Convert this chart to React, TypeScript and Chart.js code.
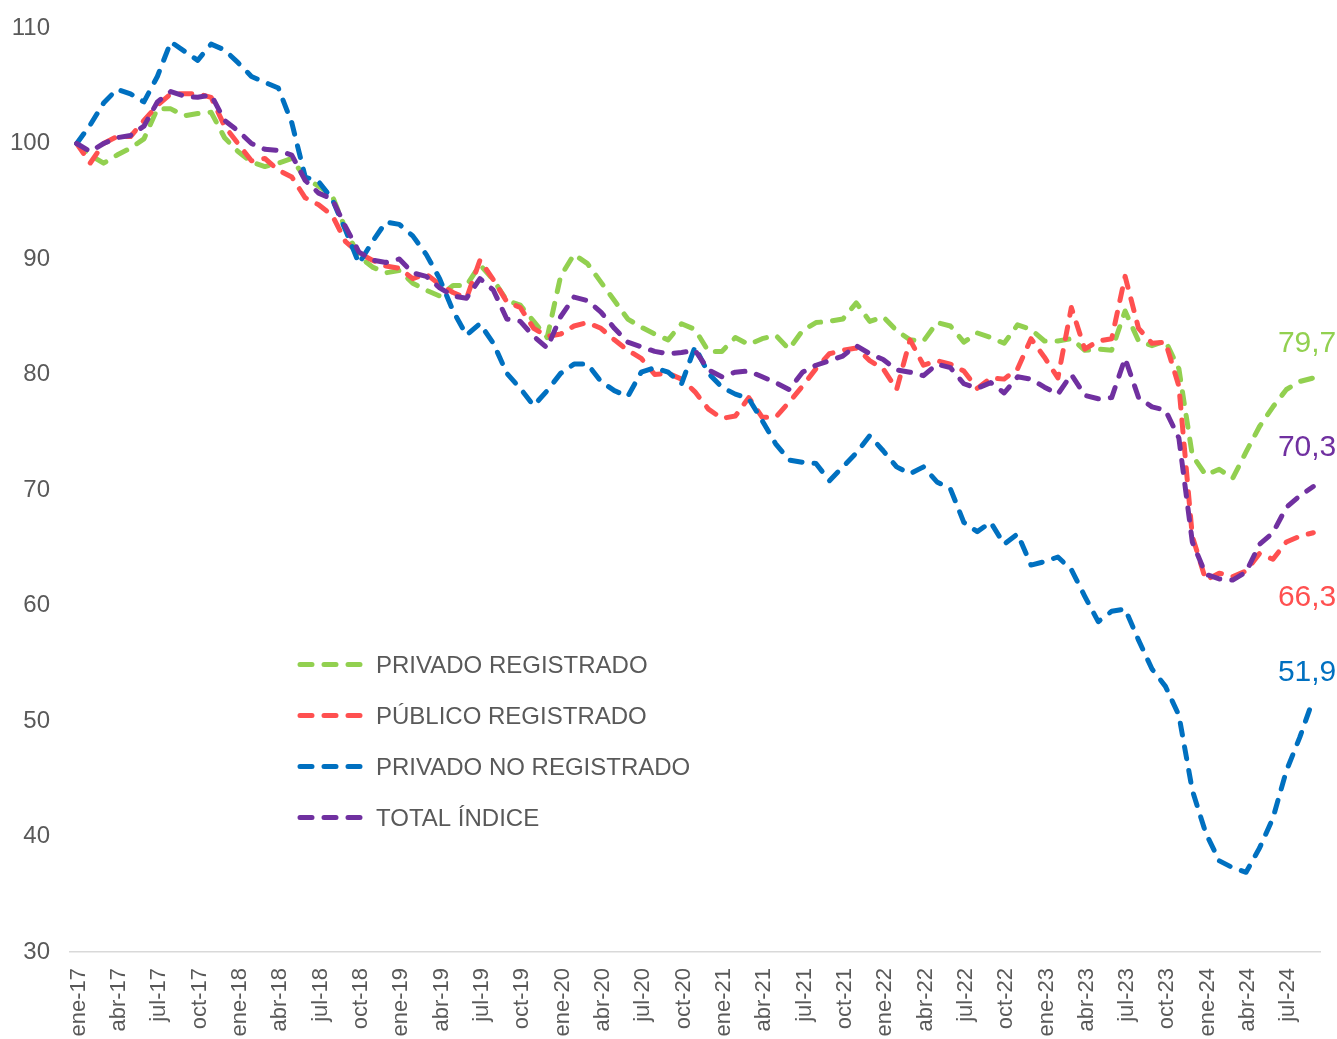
import React, { useEffect, useRef } from "react";
import { Chart, registerables } from "chart.js";

Chart.register(...registerables);

const monthNames = ["ene", "feb", "mar", "abr", "may", "jun", "jul", "ago", "sep", "oct", "nov", "dic"];
const years = ["17", "18", "19", "20", "21", "22", "23", "24"];
const categories: string[] = [];
years.forEach((y) => monthNames.forEach((m) => categories.push(`${m}-${y}`)));
categories.splice(93);

const privadoRegistrado = [
  100, 99.0, 98.3, 99.0, 99.6, 100.4, 103.0, 103.0, 102.4, 102.6, 102.7, 100.5,
  99.3, 98.4, 98.0, 98.3, 98.7, 97.0, 96.3, 95.5, 92.6, 90.2, 89.3, 88.8,
  89.0, 87.9, 87.3, 86.8, 87.7, 87.7, 89.5, 88.2, 86.4, 86.0, 84.6, 83.2,
  88.5, 90.4, 89.6, 88.0, 86.4, 84.8, 84.1, 83.5, 83.0, 84.4, 83.9, 82.0,
  82.0, 83.2, 82.6, 83.1, 83.4, 82.2, 83.8, 84.5, 84.6, 84.8, 86.2, 84.6,
  85.0, 83.8, 83.0, 82.9, 84.5, 84.2, 82.8, 83.6, 83.2, 82.7, 84.3, 83.9,
  82.9, 82.9, 83.1, 82.1, 82.2, 82.1, 85.5, 82.9, 82.5, 82.9, 80.5, 73.0,
  71.3, 71.8, 71.0, 73.3, 75.5, 77.2, 78.7, 79.4, 79.7,
];

const publicoRegistrado = [
  100, 98.3, 100.0, 100.6, 100.6, 102.0, 103.3, 104.3, 104.3, 104.3, 104.0, 101.5,
  100.0, 98.5, 98.7, 97.7, 97.1, 95.3, 94.7, 93.8, 91.5, 90.5, 89.9, 89.4,
  89.2, 88.3, 88.7, 87.8, 87.1, 86.6, 89.9, 88.2, 86.3, 85.8, 84.0, 83.3,
  83.5, 84.2, 84.5, 84.0, 83.0, 82.1, 81.4, 80.0, 80.1, 79.6, 78.5, 77.0,
  76.2, 76.4, 78.0, 76.3, 76.3, 77.6, 79.0, 80.5, 81.8, 82.1, 82.3, 81.2,
  80.5, 78.7, 83.0, 80.8, 81.2, 80.9, 80.3, 78.8, 79.7, 79.6, 80.5, 83.1,
  81.5, 79.7, 85.8, 82.2, 82.9, 83.1, 88.5, 84.0, 82.7, 82.8, 79.0, 66.0,
  62.2, 62.8, 62.5, 63.0, 64.5, 64.0, 65.5, 66.0, 66.3,
];

const privadoNoRegistrado = [
  100, 101.6, 103.5, 104.7, 104.3, 103.6, 105.8, 108.8, 108.0, 107.2, 108.6, 108.1,
  107.0, 105.8, 105.3, 104.8, 101.8, 97.1, 96.7, 95.2, 92.5, 89.6, 91.5, 93.2,
  93.0, 92.0, 90.4, 88.3, 85.5, 83.4, 84.4, 82.7, 80.1, 78.8, 77.3, 78.6,
  80.1, 80.9, 80.9, 79.4, 78.6, 78.1, 80.2, 80.6, 80.2, 79.2, 82.4, 80.1,
  78.9, 78.3, 77.9, 76.0, 74.0, 72.6, 72.4, 72.3, 70.8, 72.0, 73.2, 74.7,
  73.4, 72.0, 71.4, 72.0, 70.7, 70.1, 67.2, 66.4, 67.2, 65.3, 66.2, 63.5,
  63.8, 64.2, 63.1, 60.8, 58.6, 59.5, 59.7, 57.0, 54.5, 53.0, 50.5, 44.0,
  40.3, 37.9, 37.3, 36.9, 39.0, 41.6, 45.7, 48.6, 51.9,
];

const totalIndice = [
  100, 99.3, 100.0, 100.5, 100.7, 101.5, 103.6, 104.5, 104.1, 104.0, 104.2, 102.0,
  101.1, 100.0, 99.5, 99.4, 99.0, 96.8, 95.7, 95.2, 92.8, 90.6, 89.9, 89.7,
  90.0, 88.8, 88.5, 87.5, 86.8, 86.6, 88.3, 87.3, 84.8, 84.6, 83.3, 82.3,
  85.0, 86.7, 86.4, 85.4, 84.0, 82.8, 82.4, 82.0, 81.8, 81.9, 82.1, 80.4,
  79.8, 80.2, 80.3, 79.8, 79.3, 78.7, 80.2, 80.8, 81.2, 81.6, 82.5, 81.8,
  81.3, 80.4, 80.2, 79.9, 80.9, 80.6, 79.2, 78.8, 79.3, 78.4, 79.8, 79.6,
  78.9, 78.3, 80.0, 78.2, 77.9, 78.0, 81.4, 78.0, 77.2, 76.9, 74.5, 65.5,
  62.7, 62.3, 62.2, 62.9, 65.3, 66.3, 68.5, 69.5, 70.3,
];

const seriesNames = ["PRIVADO REGISTRADO", "PÚBLICO REGISTRADO", "PRIVADO NO REGISTRADO", "TOTAL ÍNDICE"];
const seriesColors = ["#92D050", "#FF5050", "#0070C0", "#7030A0"];
const seriesData = [privadoRegistrado, publicoRegistrado, privadoNoRegistrado, totalIndice];
const yTicks = [30, 40, 50, 60, 70, 80, 90, 100, 110];

const FONT = '"Liberation Sans", Arial, sans-serif';
const TEXT_GRAY = "#595959";
const DASH = [12, 12];

const legendPlugin = {
  id: "customLegend",
  afterDraw(chart: any) {
    const ctx = chart.ctx;
    const area = chart.chartArea;
    const x0 = area.left + 230;
    const baseY = area.top + 645;
    ctx.save();
    chart.data.datasets.forEach((ds: any, i: number) => {
      const yb = baseY + i * 51;
      ctx.beginPath();
      ctx.setLineDash([12, 12]);
      ctx.lineCap = "round";
      ctx.lineWidth = 5;
      ctx.strokeStyle = ds.borderColor;
      ctx.moveTo(x0, yb - 8.5);
      ctx.lineTo(x0 + 61, yb - 8.5);
      ctx.stroke();
      ctx.setLineDash([]);
      ctx.fillStyle = TEXT_GRAY;
      ctx.font = `24px ${FONT}`;
      ctx.textAlign = "left";
      ctx.textBaseline = "alphabetic";
      ctx.fillText(ds.label, x0 + 76, yb);
    });
    ctx.restore();
  },
};

const endLabelOffsets = [-25.5, 73, -18.5, -31];

const endLabelPlugin = {
  id: "endLabels",
  afterDatasetsDraw(chart: any) {
    const ctx = chart.ctx;
    ctx.save();
    chart.data.datasets.forEach((ds: any, i: number) => {
      const meta = chart.getDatasetMeta(i);
      const pts = meta.data;
      const last = pts[pts.length - 1];
      const value = ds.data[ds.data.length - 1] as number;
      ctx.fillStyle = ds.borderColor;
      ctx.font = `30px ${FONT}`;
      ctx.textAlign = "right";
      ctx.textBaseline = "alphabetic";
      ctx.fillText(value.toFixed(1).replace(".", ","), last.x + 23, last.y + endLabelOffsets[i]);
    });
    ctx.restore();
  },
};

export default function App() {
  const canvasRef = useRef<HTMLCanvasElement | null>(null);

  useEffect(() => {
    if (!canvasRef.current) return;
    const drawOrder = [3, 2, 1, 0];
    const chart = new Chart(canvasRef.current, {
      type: "line",
      data: {
        labels: categories,
        datasets: seriesNames.map((name, i) => ({
          label: name,
          data: seriesData[i],
          borderColor: seriesColors[i],
          backgroundColor: seriesColors[i],
          borderWidth: 5,
          borderDash: DASH,
          borderCapStyle: "round" as const,
          borderJoinStyle: "round" as const,
          pointRadius: 0,
          pointHoverRadius: 0,
          tension: 0,
          fill: false,
          order: drawOrder[i],
        })),
      },
      options: {
        responsive: false,
        animation: false,
        events: [],
        layout: { padding: { top: 28, right: 17, left: 0, bottom: 0 } },
        plugins: {
          legend: { display: false },
          tooltip: { enabled: false },
          title: { display: false },
        },
        scales: {
          x: {
            offset: true,
            grid: { display: false, drawTicks: false },
            border: { display: true, color: "#D9D9D9", width: 1.5 },
            ticks: {
              autoSkip: false,
              minRotation: 90,
              maxRotation: 90,
              padding: 16,
              labelOffset: 2,
              color: TEXT_GRAY,
              font: { family: FONT, size: 22 },
              callback: (_v: any, idx: number) => (idx % 3 === 0 ? categories[idx] : ""),
            },
            afterFit: (scale: any) => {
              scale.height = 87;
              scale.paddingLeft = 0;
              scale.paddingRight = 0;
            },
          },
          y: {
            min: yTicks[0],
            max: yTicks[yTicks.length - 1],
            grid: { display: false, drawTicks: false },
            border: { display: false },
            afterBuildTicks: (scale: any) => {
              scale.ticks = yTicks.map((v) => ({ value: v }));
            },
            ticks: {
              padding: 20,
              color: TEXT_GRAY,
              font: { family: FONT, size: 24 },
            },
            afterFit: (scale: any) => {
              scale.width = 70;
              scale.paddingTop = 0;
              scale.paddingBottom = 0;
            },
          },
        },
      },
      plugins: [legendPlugin, endLabelPlugin],
    });
    return () => chart.destroy();
  }, []);

  return (
    <div style={{ position: "absolute", left: 0, top: 0, width: 1337, height: 1039, background: "#fff" }}>
      <canvas ref={canvasRef} width={1337} height={1039} />
    </div>
  );
}
